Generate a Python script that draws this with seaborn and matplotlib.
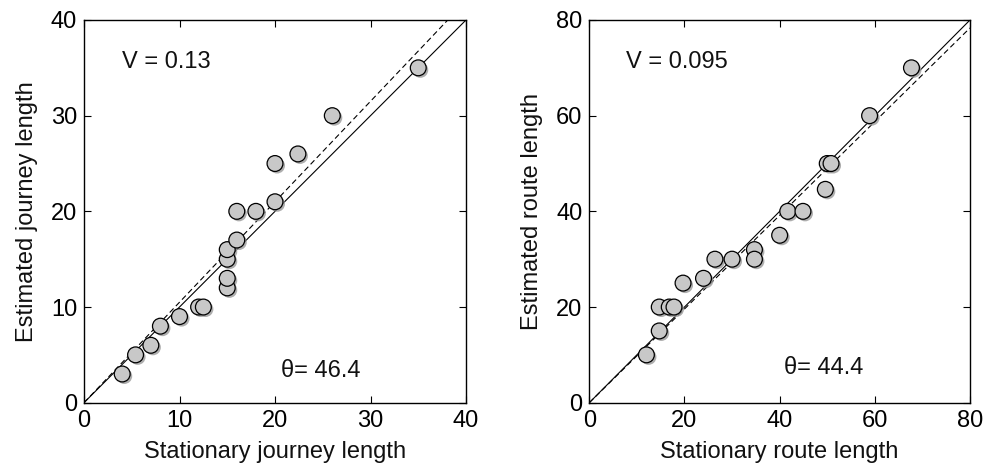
import numpy as np
import pandas as pd
import seaborn as sns
import matplotlib
matplotlib.use("Agg")
import matplotlib.pyplot as plt
import matplotlib.patheffects as pe

# Left panel: journey length
journey_stationary = [4, 5.4, 7, 8, 10, 12, 12.5, 15, 15, 15, 15, 16, 16, 18, 20, 20, 22.4, 26, 35]
journey_estimated = [3, 5, 6, 8, 9, 10, 10, 12, 13, 15, 16, 17, 20, 20, 21, 25, 26, 30, 35]
journey_V = "V = 0.13"
journey_theta = 46.4

# Right panel: route length
route_stationary = [12, 14.7, 14.7, 16.8, 17.8, 19.7, 24, 26.4, 30, 34.7, 34.7, 40, 41.7, 44.9, 49.6, 50, 50.8, 58.9, 67.7]
route_estimated = [10, 15, 20, 20, 20, 25, 26, 30, 30, 32, 30, 35, 40, 40, 44.6, 50, 50, 60, 70]
route_V = "V = 0.095"
route_theta = 44.4

sns.set_theme(style="white")
plt.rcParams['font.family'] = ['Liberation Sans', 'DejaVu Sans']

fig = plt.figure(figsize=(9.85, 4.69), dpi=100)
ax1 = fig.add_axes([84/985, 1-402.7/469, 382/985, (402.7-20)/469])
ax2 = fig.add_axes([589.3/985, 1-402.7/469, 380.7/985, (402.7-20)/469])

panels = [
    (ax1, journey_stationary, journey_estimated, journey_V, journey_theta, 40, 10,
     "Stationary journey length", "Estimated journey length", (4, 35), (20.6, 2.7)),
    (ax2, route_stationary, route_estimated, route_V, route_theta, 80, 20,
     "Stationary route length", "Estimated route length", (7.8, 70), (41, 6.1)),
]

for ax, xs, ys, vtxt, theta, lim, step, xl, yl, vpos, tpos in panels:
    df = pd.DataFrame({"x": xs, "y": ys})
    line = np.array([0, lim])
    ax.plot(line, line, color="black", lw=0.8)
    ax.plot(line, np.tan(np.deg2rad(theta)) * line, color="black", lw=0.8, ls=(0, (5, 3)))
    sns.scatterplot(data=df, x="x", y="y", ax=ax, s=130, color="#c8c8c8",
                    edgecolor="black", linewidth=0.9, zorder=3, legend=False)
    for coll in ax.collections:
        coll.set_path_effects([pe.SimplePatchShadow(offset=(1.5, -1.5), shadow_rgbFace="#9a9a9a", alpha=0.8),
                               pe.Normal()])
        coll.set_clip_on(False)
    ax.set_xlim(0, lim)
    ax.set_ylim(0, lim)
    ticks = np.arange(0, lim + 1, step)
    ax.set_xticks(ticks)
    ax.set_yticks(ticks)
    ax.tick_params(direction="in", length=5, width=0.8, labelsize=17, colors="black",
                   top=True, right=True, bottom=True, left=True)
    ax.tick_params(axis="x", pad=5)
    ax.tick_params(axis="y", pad=5)
    for sp in ax.spines.values():
        sp.set_visible(True)
        sp.set_color("black")
        sp.set_linewidth(1.0)
    ax.set_xlabel(xl, fontsize=17, color="#111111", labelpad=7)
    ax.set_ylabel(yl, fontsize=17, color="#111111", labelpad=9)
    ax.text(vpos[0], vpos[1], vtxt, fontsize=17, ha="left", va="baseline", color="#111111")
    ax.text(tpos[0], tpos[1], "\u03b8= " + f"{theta}", fontsize=17, ha="left", va="baseline", color="#111111")

fig.savefig("out.png", dpi=100)
